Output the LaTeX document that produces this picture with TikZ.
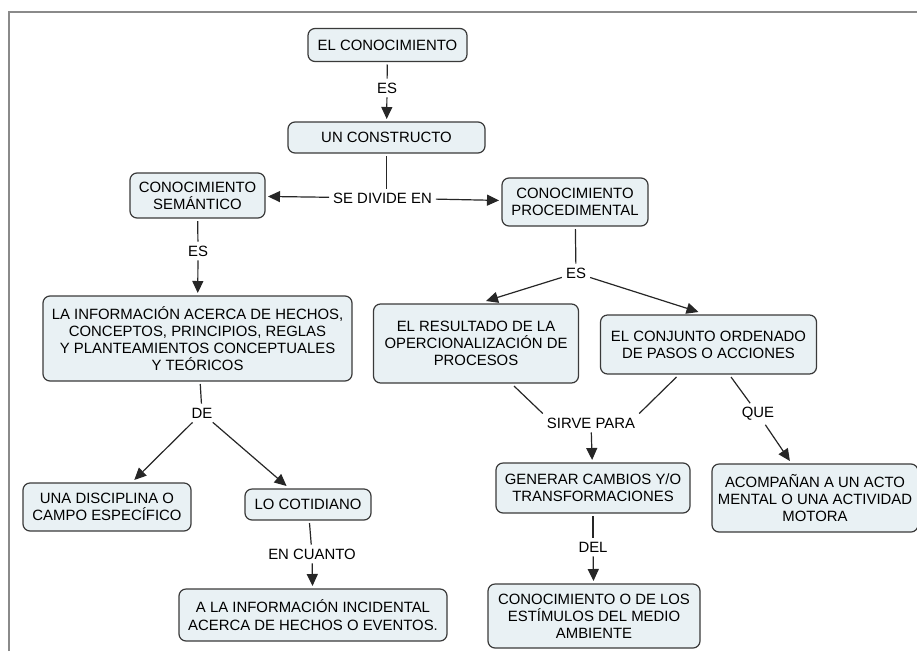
\documentclass[tikz,border=0pt]{standalone}
\usepackage{fontspec}
\setmainfont{Liberation Sans}
\usetikzlibrary{arrows.meta,calc}
\definecolor{boxfill}{RGB}{233,241,244}
\definecolor{boxline}{RGB}{58,58,58}
\definecolor{framegray}{RGB}{138,138,138}

\begin{document}
\begin{tikzpicture}[
    x=1pt, y=-1pt,
    font=\fontsize{14.9}{17.2}\selectfont,
    concept/.style={draw=boxline, fill=boxfill, line width=1.2pt, rounded corners=7pt, align=center, inner sep=2pt, outer sep=3pt},
    link/.style={inner sep=4pt},
    line/.style={line width=1.2pt, draw=black!85},
    arrow/.style={line, -{Triangle[length=12pt,width=11pt]}}
]
\useasboundingbox (0,0) rectangle (917,651);
\draw[framegray, line width=2.2pt] (9,651) -- (9,12) -- (917,12);

\node[concept, minimum width=159pt, minimum height=33pt] (top) at (387.5,45) {EL CONOCIMIENTO};
\node[concept, minimum width=197pt, minimum height=31pt] (constructo) at (386.5,137.5) {UN CONSTRUCTO};
\node[concept, minimum width=135pt, minimum height=45pt] (semantico) at (197.5,195.5) {CONOCIMIENTO\\SEMÁNTICO};
\node[concept, minimum width=146pt, minimum height=48pt] (proced) at (575,202) {CONOCIMIENTO\\PROCEDIMENTAL};
\node[concept, minimum width=309pt, minimum height=85pt] (info) at (197.5,338.5) {LA INFORMACIÓN ACERCA DE HECHOS,\\CONCEPTOS, PRINCIPIOS, REGLAS\\Y PLANTEAMIENTOS CONCEPTUALES\\Y TEÓRICOS};
\node[concept, minimum width=205pt, minimum height=79pt] (resultado) at (476,343.5) {EL RESULTADO DE LA\\OPERCIONALIZACIÓN DE\\PROCESOS};
\node[concept, minimum width=216pt, minimum height=59pt] (conjunto) at (708.5,344.5) {EL CONJUNTO ORDENADO\\DE PASOS O ACCIONES};
\node[concept, minimum width=168pt, minimum height=48pt] (disciplina) at (107,507) {UNA DISCIPLINA O\\CAMPO ESPECÍFICO};
\node[concept, minimum width=126pt, minimum height=31pt] (cotidiano) at (308,504.5) {LO COTIDIANO};
\node[concept, minimum width=268pt, minimum height=52pt] (incidental) at (313,615) {A LA INFORMACIÓN INCIDENTAL\\ACERCA DE HECHOS O EVENTOS.};
\node[concept, minimum width=194pt, minimum height=50pt] (generar) at (593,488) {GENERAR CAMBIOS Y/O\\TRANSFORMACIONES};
\node[concept, minimum width=212pt, minimum height=64pt] (estimulos) at (594,616) {CONOCIMIENTO O DE LOS\\ESTÍMULOS DEL MEDIO\\AMBIENTE};
\node[concept, minimum width=206pt, minimum height=68pt] (acompanan) at (815,498) {ACOMPAÑAN A UN ACTO\\MENTAL O UNA ACTIVIDAD\\MOTORA};

\node[link] (es1) at (387,88) {ES};
\node[link] (divide) at (382.5,198) {SE DIVIDE EN};
\node[link] (es2) at (198,251) {ES};
\node[link] (es3) at (576,273) {ES};
\node[link] (de) at (202,413) {DE};
\node[link] (sirve) at (591,423) {SIRVE PARA};
\node[link] (que) at (758,414) {QUE};
\node[link] (encuanto) at (312,554) {EN CUANTO};
\node[link] (del) at (593,547) {DEL};

\draw[line] (top) -- (es1);
\draw[arrow] (es1) -- (constructo);
\draw[line] (constructo) -- (constructo |- divide.north);
\draw[arrow] (divide) -- (semantico);
\draw[arrow] (divide) -- (proced);

\draw[line] (semantico) -- (es2);
\draw[arrow] (es2) -- (info);
\draw[line] (info) -- (de);
\draw[arrow] (de) -- (disciplina);
\draw[arrow] (de) -- (cotidiano);
\draw[line] (cotidiano) -- (encuanto);
\draw[arrow] (encuanto) -- (incidental);

\draw[line] (proced) -- (es3);
\draw[arrow] (es3) -- ([xshift=10pt]resultado.north);
\draw[arrow] (es3) -- ([xshift=-10pt]conjunto.north);
\draw[line] ([xshift=38pt]resultado.south) -- (sirve.north west);
\draw[line] ([xshift=-32pt]conjunto.south) -- (sirve.north east);
\draw[arrow] (sirve) -- (generar);
\draw[line] ([xshift=22.5pt]conjunto.south) -- (que);
\draw[arrow] (que) -- (acompanan);
\draw[line] (generar) -- (del);
\draw[arrow] (del) -- (estimulos);
\end{tikzpicture}
\end{document}
